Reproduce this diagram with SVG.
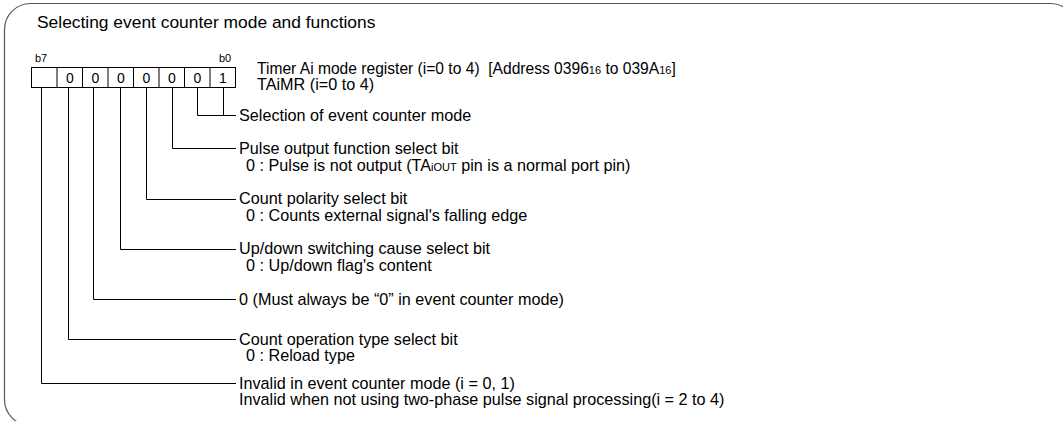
<svg xmlns="http://www.w3.org/2000/svg" width="1063" height="421" viewBox="0 0 1063 421">
<style>
.t{font-family:"Liberation Sans",Arial,sans-serif;font-size:16.2px;fill:#000}
.sm{font-size:11px}
.bit{font-family:"Liberation Sans",Arial,sans-serif;font-size:14px;fill:#000;text-anchor:middle}
.lbl{font-family:"Liberation Sans",Arial,sans-serif;font-size:11px;fill:#000}
.ln{fill:none;stroke:#000;stroke-width:1}
.cell{fill:#fff;stroke:#000;stroke-width:1}
</style>
<rect x="4.5" y="3.5" width="1072" height="422" rx="26" ry="26" fill="#fff" stroke="#555" stroke-width="1.2"/>
<text class="t" x="37" y="28" style="font-size:17.4px">Selecting event counter mode and functions</text>
<g id="register">
<text class="lbl" x="35" y="62">b7</text>
<text class="lbl" x="219" y="62">b0</text>
<rect class="cell" x="31.5" y="67.5" width="204" height="20"/>
<g class="ln">
<line x1="57" y1="67.5" x2="57" y2="87.5"/>
<line x1="82.5" y1="67.5" x2="82.5" y2="87.5"/>
<line x1="108" y1="67.5" x2="108" y2="87.5"/>
<line x1="133.5" y1="67.5" x2="133.5" y2="87.5"/>
<line x1="159" y1="67.5" x2="159" y2="87.5"/>
<line x1="184.5" y1="67.5" x2="184.5" y2="87.5"/>
<line x1="210" y1="67.5" x2="210" y2="87.5"/>
</g>
<text class="bit" x="70" y="83">0</text>
<text class="bit" x="95.5" y="83">0</text>
<text class="bit" x="121" y="83">0</text>
<text class="bit" x="146.5" y="83">0</text>
<text class="bit" x="172" y="83">0</text>
<text class="bit" x="197.5" y="83">0</text>
<text class="bit" x="223" y="83">1</text>
<text class="t" x="257" y="74" style="font-size:15.6px">Timer Ai mode register (i=0 to 4) &#160;[Address 0396<tspan class="sm">16</tspan> to 039A<tspan class="sm">16</tspan>]</text>
<text class="t" x="257" y="90">TAiMR (i=0 to 4)</text>
</g>
<g id="connectors" class="ln">
<polyline points="223.5,87.5 223.5,115.5 236,115.5"/>
<polyline points="197.5,87.5 197.5,115.5 224,115.5"/>
<polyline points="172.5,87.5 172.5,148.5 236,148.5"/>
<polyline points="146.5,87.5 146.5,199.5 236,199.5"/>
<polyline points="120.5,87.5 120.5,249.5 236,249.5"/>
<polyline points="93.5,87.5 93.5,299.5 236,299.5"/>
<polyline points="68.5,87.5 68.5,339.5 236,339.5"/>
<polyline points="41.5,87.5 41.5,383.5 236,383.5"/>
</g>
<g id="b0b1"><text class="t" x="239" y="121">Selection of event counter mode</text></g>
<g id="b2">
<text class="t" x="239" y="154">Pulse output function select bit</text>
<text class="t" x="246" y="171">0 : Pulse is not output (TA<tspan class="sm">iOUT</tspan> pin is a normal port pin)</text>
</g>
<g id="b3">
<text class="t" x="239" y="204">Count polarity select bit</text>
<text class="t" x="246" y="221">0 : Counts external signal's falling edge</text>
</g>
<g id="b4">
<text class="t" x="239" y="254">Up/down switching cause select bit</text>
<text class="t" x="246" y="271">0 : Up/down flag's content</text>
</g>
<g id="b5"><text class="t" x="239" y="305">0 (Must always be “0” in event counter mode)</text></g>
<g id="b6">
<text class="t" x="239" y="345">Count operation type select bit</text>
<text class="t" x="246" y="361">0 : Reload type</text>
</g>
<g id="b7">
<text class="t" x="239" y="389">Invalid in event counter mode (i = 0, 1)</text>
<text class="t" x="239" y="405">Invalid when not using two-phase pulse signal processing(i = 2 to 4)</text>
</g>
</svg>
